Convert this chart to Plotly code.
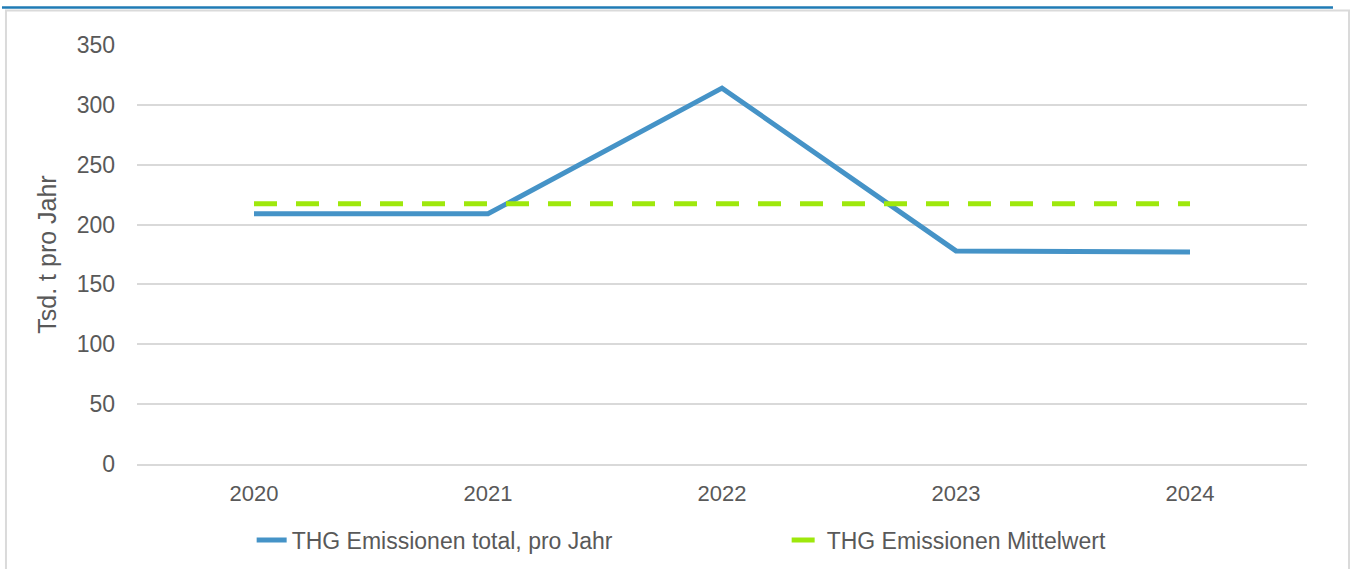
import plotly.graph_objects as go

# -- data
years = ["2020", "2021", "2022", "2023", "2024"]
thg_total = [209, 209, 314, 178, 177]
thg_mittel = [217.4, 217.4, 217.4, 217.4, 217.4]
y_ticks = [0, 50, 100, 150, 200, 250, 300, 350]

FONT = "Liberation Sans, Arial, sans-serif"
GREY = "#595959"

fig = go.Figure(
    data = [
        go.Scatter(
            x = years,
            y = thg_total,
            mode = "lines",
            name = "THG Emissionen total, pro Jahr",
            line = dict(color = "#4593c7", width = 5)
        ),
        go.Scatter(
            x = years,
            y = thg_mittel,
            mode = "lines",
            name = "THG Emissionen Mittelwert",
            line = dict(color = "#9ee80c", width = 5, dash = "23px,19px")
        )
    ]
)

fig.update_layout(
    width = 1353,
    height = 569,
    margin = dict(l = 137, r = 46, t = 45, b = 105),
    paper_bgcolor = "white",
    plot_bgcolor = "white",
    font = dict(family = FONT, size = 22, color = GREY),
    showlegend = True,
    legend = dict(
        orientation = "h",
        x = 0.098, xanchor = "left",
        yref = "container",
        y = 0.051, yanchor = "middle",
        font = dict(size = 23, color = GREY),
        entrywidth = 490,
        tracegroupgap = 0
    ),
    # frame around the chart and the blue line on top
    shapes = [
        dict(type = "rect", xref = "paper", yref = "paper",
             x0 = -0.112, x1 = 1.0359, y0 = -0.35, y1 = 1.0823,
             line = dict(color = "#dadada", width = 2), layer = "below"),
        dict(type = "line", xref = "paper", yref = "paper",
             x0 = -0.1154, x1 = 1.0222, y0 = 1.0895, y1 = 1.0895,
             line = dict(color = "#1f7bb5", width = 2.5))
    ]
)

fig.update_xaxes(
    type = "category",
    range = [-0.5, 4.5],
    showgrid = False,
    showline = True,
    linecolor = "#d9d9d9",
    linewidth = 1.5,
    ticks = "",
    ticklabelstandoff = 9,
    tickfont = dict(size = 22, color = GREY)
)

fig.update_yaxes(
    range = [0, 350],
    tickvals = y_ticks,
    showgrid = True,
    gridcolor = "#d9d9d9",
    gridwidth = 1.5,
    zeroline = False,
    showline = False,
    ticks = "",
    ticklabelstandoff = 21,
    tickfont = dict(size = 23, color = GREY),
    title = dict(text = "Tsd. t pro Jahr", font = dict(size = 25, color = GREY), standoff = 12)
)

fig.write_html(
    "out.html",
    config = {"displayModeBar": False},
    post_script = "document.body.style.margin = '0';"
)
